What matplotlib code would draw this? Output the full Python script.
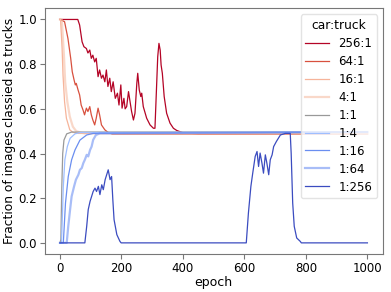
import matplotlib
matplotlib.use("Agg")
import matplotlib.pyplot as plt

labels = ["256:1", "64:1", "16:1", "4:1", "1:1", "1:4", "1:16", "1:64", "1:256"]

ep_256_1 = [0, 58, 64, 72, 78, 86, 91, 97, 102, 107, 113, 118, 124, 129, 135, 140, 146, 151, 156, 162,
            167, 173, 180, 187, 192, 198, 202, 208, 212, 217, 223, 228, 233, 239, 244, 250, 253, 258,
            263, 266, 271, 282, 293, 304, 309, 313, 318, 322, 326, 329, 333, 339, 347, 358, 369, 380,
            400, 450, 1000]
val_256_1 = [1.0, 1.0, 0.975, 0.90, 0.878, 0.87, 0.85, 0.863, 0.826, 0.84, 0.81, 0.826, 0.744, 0.774,
             0.737, 0.751, 0.721, 0.774, 0.70, 0.737, 0.677, 0.721, 0.647, 0.67, 0.617, 0.707, 0.603,
             0.647, 0.60, 0.61, 0.677, 0.632, 0.588, 0.55, 0.58, 0.714, 0.759, 0.684, 0.655, 0.67, 0.61,
             0.558, 0.528, 0.513, 0.513, 0.655, 0.833, 0.893, 0.863, 0.796, 0.759, 0.655, 0.58, 0.536,
             0.513, 0.503, 0.493, 0.488, 0.487]

ep_64_1 = [0, 15, 26, 35, 40, 46, 50, 53, 59, 64, 69, 75, 80, 86, 91, 97, 102, 107, 113, 118, 124, 129,
           135, 146, 156, 170, 1000]
val_64_1 = [1.0, 0.99, 0.915, 0.826, 0.766, 0.729, 0.707, 0.714, 0.684, 0.662, 0.617, 0.595, 0.573,
            0.603, 0.588, 0.61, 0.573, 0.55, 0.528, 0.558, 0.603, 0.573, 0.528, 0.506, 0.495, 0.487, 0.487]

ep_16_1 = [0, 2, 7, 10, 15, 21, 32, 42, 60, 1000]
val_16_1 = [1.0, 1.0, 0.87, 0.75, 0.632, 0.558, 0.506, 0.495, 0.49, 0.488]

ep_4_1 = [0, 6, 13, 17, 24, 32, 42, 53, 64, 80, 1000]
val_4_1 = [1.0, 1.0, 0.84, 0.72, 0.632, 0.565, 0.52, 0.50, 0.495, 0.49, 0.488]

ep_1_1 = [0, 3, 6, 9, 13, 22, 38, 1000]
val_1_1 = [0.0, 0.015, 0.25, 0.40, 0.46, 0.488, 0.496, 0.497]

ep_1_4 = [0, 5, 8, 11, 16, 24, 33, 49, 65, 1000]
val_1_4 = [0.0, 0.0, 0.12, 0.253, 0.372, 0.431, 0.468, 0.488, 0.494, 0.497]

ep_1_16 = [0, 11, 18, 27, 38, 49, 65, 87, 108, 1000]
val_1_16 = [0.0, 0.0, 0.178, 0.297, 0.372, 0.416, 0.46, 0.483, 0.49, 0.496]

ep_1_64 = [0, 22, 27, 33, 38, 46, 52, 60, 65, 71, 76, 81, 87, 92, 98, 103, 108, 117, 130, 1000]
val_1_64 = [0.0, 0.0, 0.074, 0.149, 0.208, 0.253, 0.283, 0.305, 0.327, 0.335, 0.357, 0.372, 0.394,
            0.387, 0.416, 0.431, 0.461, 0.483, 0.49, 0.496]

ep_1_256 = [0, 81, 87, 92, 98, 103, 108, 114, 119, 125, 130, 136, 141, 147, 152, 157, 163, 168, 172,
            176, 185, 195, 199, 606, 613, 621, 627, 635, 641, 646, 651, 657, 662, 668, 673, 679, 684,
            690, 695, 704, 717, 733, 749, 752, 757, 762, 770, 782, 785, 1000]
val_1_256 = [0.0, 0.0, 0.074, 0.149, 0.186, 0.208, 0.23, 0.245, 0.23, 0.253, 0.216, 0.26, 0.238, 0.283,
             0.305, 0.327, 0.283, 0.297, 0.193, 0.104, 0.037, 0.007, 0.0, 0.0, 0.134, 0.253, 0.312,
             0.387, 0.409, 0.342, 0.402, 0.357, 0.312, 0.394, 0.357, 0.305, 0.372, 0.394, 0.431, 0.454,
             0.483, 0.49, 0.49, 0.402, 0.178, 0.074, 0.022, 0.006, 0.0, 0.0]

epochs = [ep_256_1, ep_64_1, ep_16_1, ep_4_1, ep_1_1, ep_1_4, ep_1_16, ep_1_64, ep_1_256]
values = [val_256_1, val_64_1, val_16_1, val_4_1, val_1_1, val_1_4, val_1_16, val_1_64, val_1_256]

colors = ["#b40426", "#d8503e", "#f6b49a", "#f6bfa6", "#999999", "#9ebeff", "#6a8ef0", "#6f92f3", "#3b4cc0"]
widths = [0.9, 0.9, 0.9, 1.6, 0.9, 0.9, 0.9, 1.6, 0.9]
alphas = [1.0, 1.0, 1.0, 0.6, 1.0, 1.0, 1.0, 0.6, 1.0]

fig = plt.figure(figsize=(3.91, 2.92), dpi=100)
ax = fig.add_axes([0.114, 0.13, 0.865, 0.8416])

for x, y, lab, c, w, a in zip(epochs, values, labels, colors, widths, alphas):
    ax.plot(x, y, color=c, lw=w, alpha=a, label=lab)

ax.set_xlim(-50, 1050)
ax.set_ylim(-0.05, 1.05)
ax.set_xticks([0, 200, 400, 600, 800, 1000])
ax.set_yticks([0.0, 0.2, 0.4, 0.6, 0.8, 1.0])
ax.set_xlabel("epoch", fontsize=9, labelpad=1)
ax.set_ylabel("Fraction of images classied as trucks", fontsize=8.8, labelpad=2)
ax.tick_params(labelsize=8.5, length=3.5, width=0.8, color="#777777", pad=2)
for s in ax.spines.values():
    s.set_color("#777777")
    s.set_linewidth(0.8)

leg = ax.legend(title="car:truck", loc="upper right", fontsize=8.5, title_fontsize=8.8,
                frameon=True, fancybox=True, borderaxespad=0.5, labelspacing=0.42)
leg.get_frame().set_edgecolor("#dddddd")

fig.savefig("out.png", dpi=100)
